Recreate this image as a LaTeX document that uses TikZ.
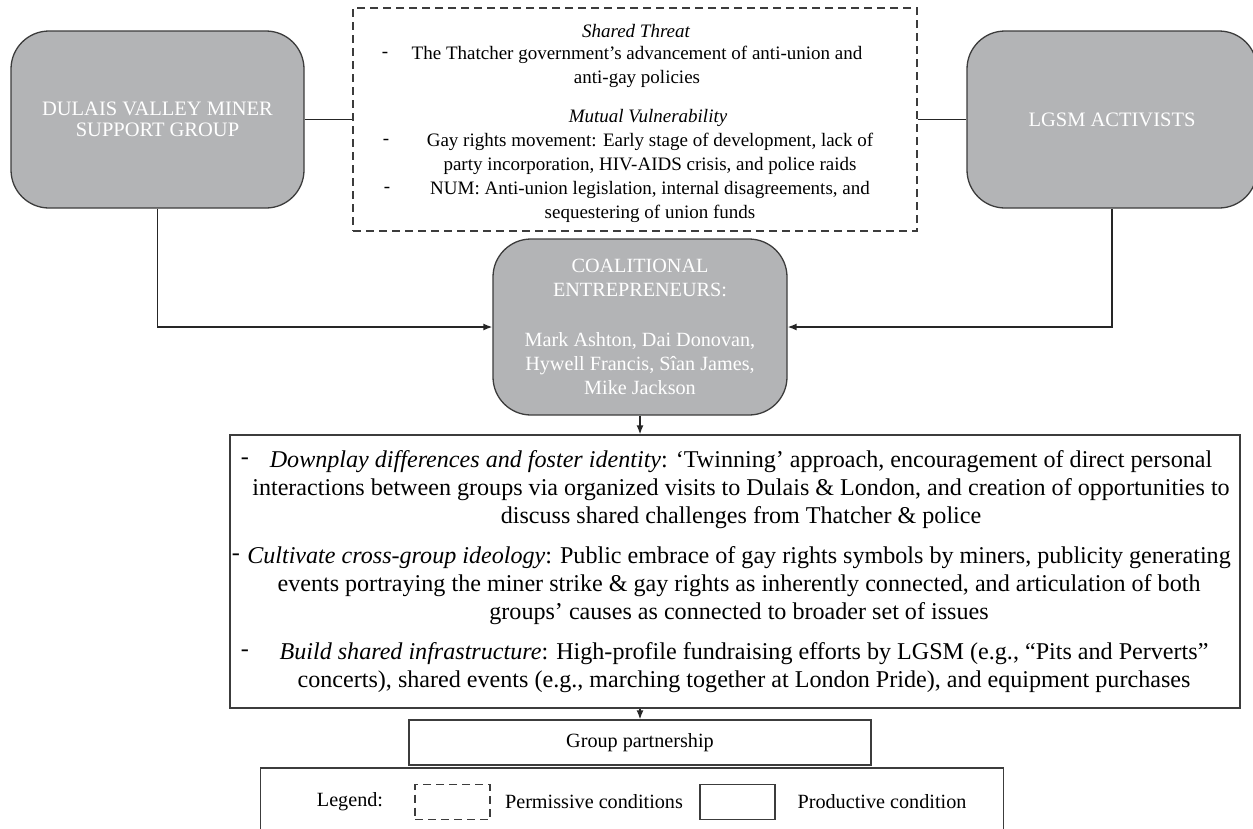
\documentclass[tikz,border=0pt]{standalone}
\usepackage{fontspec}
\setmainfont{Liberation Serif}
\usetikzlibrary{arrows.meta}
\definecolor{boxgray}{RGB}{179,180,182}
\definecolor{edgegray}{RGB}{60,60,60}
\newcommand{\fUp}{\fontsize{19}{24}\selectfont}
\newcommand{\fSide}{\fontsize{20.5}{21}\selectfont}
\newcommand{\fCoal}{\fontsize{20.2}{24}\selectfont}
\newcommand{\fLow}{\fontsize{24.1}{28}\selectfont}
\newcommand{\fLeg}{\fontsize{20.2}{24}\selectfont}
\begin{document}
\begin{tikzpicture}[x=1pt,y=-1pt,
  graybox/.style={draw=edgegray, line width=1.3pt, fill=boxgray, rounded corners=38pt, inner sep=0pt, text=white, align=center},
  dashbox/.style={draw=edgegray, line width=1.1pt, dash pattern=on 8pt off 5pt, inner sep=0pt},
  plainbox/.style={draw=edgegray, line width=1.3pt, inner sep=0pt},
  txt/.style={inner sep=0pt, align=center},
  conn/.style={draw=black!85, line width=1.4pt},
  arr/.style={conn, -{Latex[length=9pt,width=7pt]}}]
\useasboundingbox (0,0) rectangle (1253,828);

% top row
\node[graybox, minimum width=293pt, minimum height=177pt, font=\fSide] (dulais) at (157.5,119.5) {DULAIS VALLEY MINER\\SUPPORT GROUP};
\node[graybox, minimum width=290pt, minimum height=177pt, font=\fSide] (lgsm) at (1112,119.5) {LGSM ACTIVISTS};
\node[dashbox, minimum width=564pt, minimum height=223pt] (perm) at (635,119.5) {};

\node[txt, font=\fUp\itshape] (st) at (636,31) {Shared Threat};
\node[txt, font=\fUp] (d1) at (385,55) {-};
\node[txt, font=\fUp] (st1) at (637,67) {The Thatcher government’s advancement of anti-union and\\anti-gay policies};
\node[txt, font=\fUp\itshape] (mv) at (648,118) {Mutual Vulnerability};
\node[txt, font=\fUp] (d2) at (386,142) {-};
\node[txt, font=\fUp] (mv1) at (650,154) {Gay rights movement: Early stage of development, lack of\\party incorporation, HIV-AIDS crisis, and police raids};
\node[txt, font=\fUp] (d3) at (387,190) {-};
\node[txt, font=\fUp] (mv2) at (650,202) {NUM: Anti-union legislation, internal disagreements, and\\sequestering of union funds};

% coalitional entrepreneurs
\node[graybox, minimum width=294pt, minimum height=176pt, font=\fCoal] (coal) at (640,327) {COALITIONAL\\ENTREPRENEURS:\\[26pt]Mark Ashton, Dai Donovan,\\Hywell Francis, Sîan James,\\Mike Jackson};

% productive condition box
\node[plainbox, minimum width=1010pt, minimum height=273pt] (prod) at (735,571.5) {};
\node[txt, font=\fLow] (e1) at (245,461.5) {-};
\node[txt, font=\fLow] (p1) at (741,489.5) {\textit{Downplay differences and foster identity}: ‘Twinning’ approach, encouragement of direct personal\\interactions between groups via organized visits to Dulais \& London, and creation of opportunities to\\discuss shared challenges from Thatcher \& police};
\node[txt, font=\fLow] (e2) at (236,557.5) {-};
\node[txt, font=\fLow] (p2) at (739,585.5) {\textit{Cultivate cross-group ideology}: Public embrace of gay rights symbols by miners, publicity generating\\events portraying the miner strike \& gay rights as inherently connected, and articulation of both\\groups’ causes as connected to broader set of issues};
\node[txt, font=\fLow] (e3) at (245,653.5) {-};
\node[txt, font=\fLow] (p3) at (744,667.5) {\textit{Build shared infrastructure}: High-profile fundraising efforts by LGSM (e.g., “Pits and Perverts”\\concerts), shared events (e.g., marching together at London Pride), and equipment purchases};

% outcome
\node[plainbox, minimum width=462pt, minimum height=45pt, font=\fLeg] (gp) at (640,742.5) {Group partnership};

% legend
\node[plainbox, minimum width=743pt, minimum height=66pt] (legend) at (632,801) {};
\node[txt, font=\fLeg] (lg) at (350,802) {Legend:};
\node[dashbox, minimum width=75pt, minimum height=35pt] (lgd) at (452.5,802) {};
\node[txt, font=\fLeg] (lgdt) at (594,802) {Permissive conditions};
\node[plainbox, minimum width=75pt, minimum height=35pt] (lgs) at (737.5,802) {};
\node[txt, font=\fLeg] (lgst) at (882,802) {Productive condition};

% connectors
\draw[conn] (dulais.east) -- (perm.west);
\draw[conn] (perm.east) -- (lgsm.west);
\draw[arr] (dulais.south) |- (coal.west);
\draw[arr] (lgsm.south) |- (coal.east);
\draw[arr] (coal.south) -- (coal.south |- prod.north);
\draw[arr] (prod.south -| coal.south) -- (gp.north -| coal.south);
\end{tikzpicture}
\end{document}
